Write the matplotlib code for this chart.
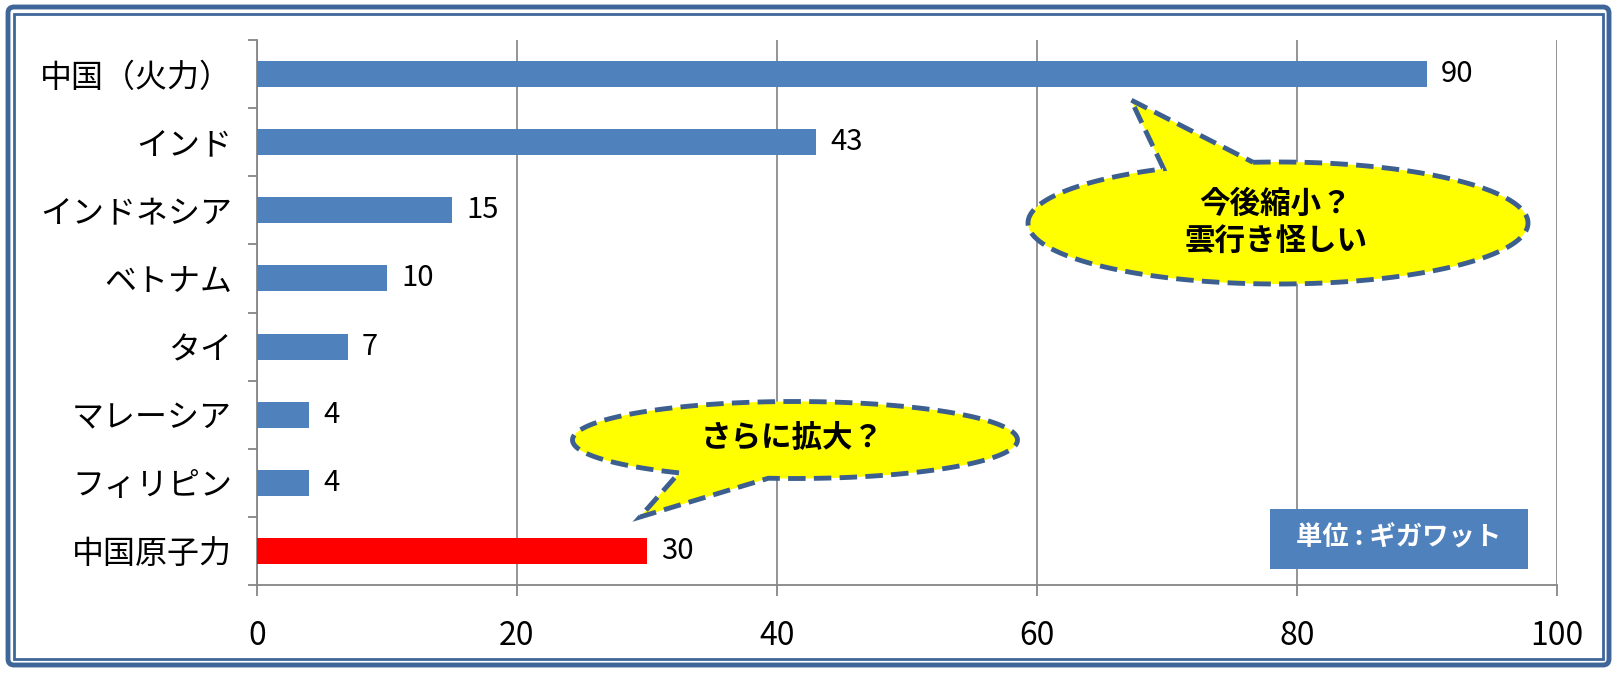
import numpy as np
import matplotlib
matplotlib.use('Agg')
from matplotlib import pyplot as plt
from matplotlib.patches import Polygon, Rectangle, FancyBboxPatch

plt.rcParams['font.family'] = ['Noto Sans CJK JP', 'DejaVu Sans']

categories = ['中国（火力）', 'インド', 'インドネシア', 'ベトナム', 'タイ',
              'マレーシア', 'フィリピン', '中国原子力']
values = [90, 43, 15, 10, 7, 4, 4, 30]
bar_colors = ['#4F81BD'] * 7 + ['#FF0000']
x_ticks = [0, 20, 40, 60, 80, 100]

W, H = 1617, 673
fig = plt.figure(figsize=(W / 100, H / 100), dpi=100)
fig.patch.set_facecolor('white')

# main bar chart
ax = fig.add_axes([257 / W, 1 - 585 / H, 1300 / W, 545 / H])
y = np.arange(len(categories))
bars = ax.barh(y, values, height=0.38, color=bar_colors, zorder=3)
ax.set_ylim(len(categories) - 0.5, -0.5)
ax.set_xlim(0, 100)
ax.set_xticks(x_ticks)
ax.set_yticks(y)
ax.set_yticklabels(categories, fontsize=23)
ax.set_yticks(np.arange(-0.5, len(categories), 1), minor=True)
ax.tick_params(axis='y', which='major', length=0, pad=18)
ax.tick_params(axis='y', which='minor', length=6.5, width=1.3, color='#868686')
ax.tick_params(axis='x', length=8, width=1.3, color='#868686', labelsize=23, pad=17)
ax.grid(axis='x', color='#8c8c8c', linewidth=1.3)
ax.set_axisbelow(True)
for s in ['top', 'right']:
    ax.spines[s].set_visible(False)
for s in ['left', 'bottom']:
    ax.spines[s].set_color('#868686')
    ax.spines[s].set_linewidth(1.3)
ax.bar_label(bars, labels=[str(v) for v in values], padding=10, fontsize=21)

# overlay in pixel coordinates for frame, callouts and unit box
ov = fig.add_axes([0, 0, 1, 1], zorder=5)
ov.set_xlim(0, W)
ov.set_ylim(H, 0)
ov.axis('off')
ov.patch.set_alpha(0)

frame_col = '#3F6699'
ov.add_patch(FancyBboxPatch((8, 7), W - 16, H - 15, boxstyle='round,pad=0,rounding_size=6',
                            fill=False, ec=frame_col, lw=3.5))
ov.add_patch(Rectangle((14, 14), W - 28, H - 28, fill=False, ec=frame_col, lw=2))


def callout(cx, cy, w, h, tip, b1, b2):
    a, b = w / 2, h / 2
    t1 = np.arctan2((b1[1] - cy) / b, (b1[0] - cx) / a)
    t2 = np.arctan2((b2[1] - cy) / b, (b2[0] - cx) / a)
    d = (t2 - t1) % (2 * np.pi)
    if d > np.pi:
        t1, t2 = t2, t1
    ts = np.linspace(t2, t1 + 2 * np.pi, 300)
    pts = np.column_stack([cx + a * np.cos(ts), cy + b * np.sin(ts)])
    pts = np.vstack([pts, tip])
    ov.add_patch(Polygon(pts, closed=True, fc='#FFFF00', ec='#3C5F8F', lw=3.5,
                         ls=(0, (3.6, 1.7)), joinstyle='miter'))


callout(1278, 223, 500, 122, (1131, 100), (1162, 168), (1253, 162))
ov.text(1276, 222, '今後縮小？\n雲行き怪しい', ha='center', va='center',
        fontsize=22, fontweight='bold', linespacing=1.2)

callout(795, 440, 445, 77, (640, 517), (682, 472), (770, 476))
ov.text(792, 438, 'さらに拡大？', ha='center', va='center',
        fontsize=22, fontweight='bold')

ov.add_patch(Rectangle((1270, 509), 258, 60, fc='#4F81BD', ec='none'))
ov.text(1399, 538, '単位 : ギガワット', ha='center', va='center', color='white',
        fontsize=19, fontweight='bold')

fig.savefig('out.png', dpi=100)
